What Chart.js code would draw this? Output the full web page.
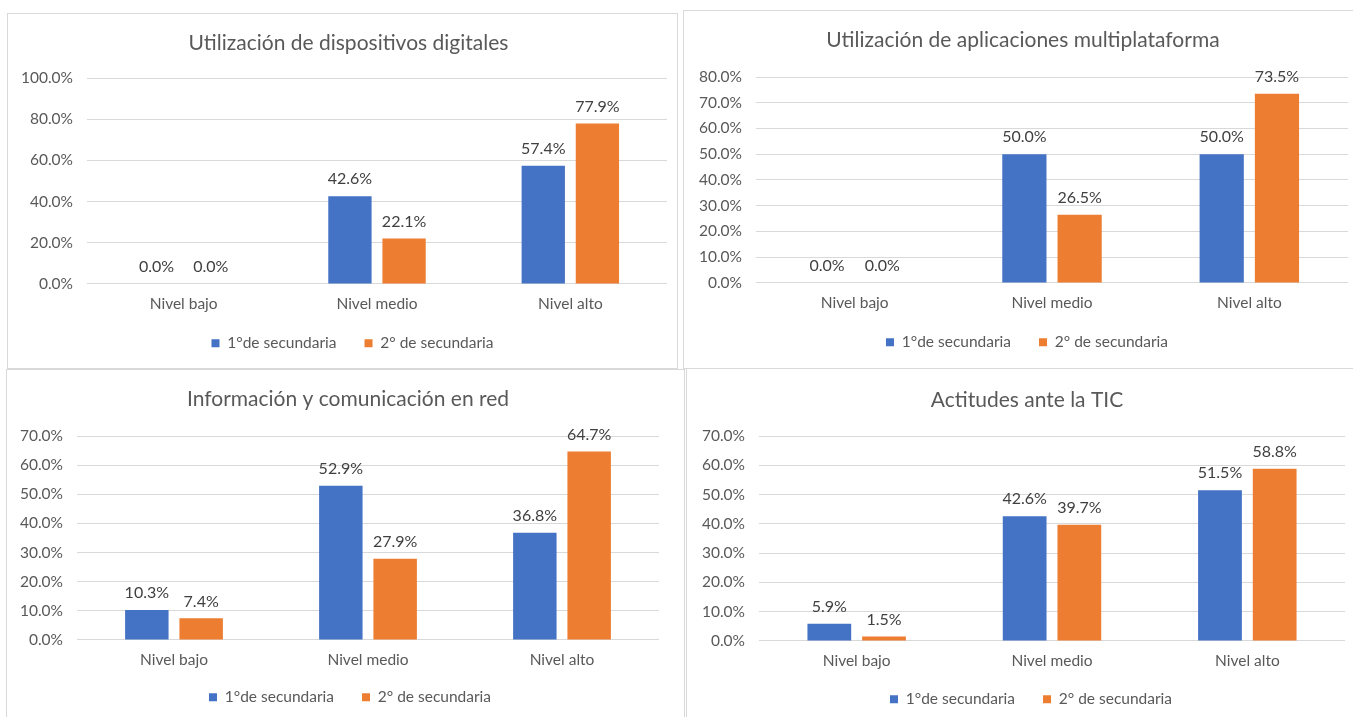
<!DOCTYPE html>
<html>
<head>
<meta charset="utf-8">
<script src="https://cdn.jsdelivr.net/npm/chart.js@4.4.0/dist/chart.umd.min.js"></script>
<style>
  body { margin: 0; background: #fff; width: 1353px; height: 717px; overflow: hidden; position: relative; }
  .panel { position: absolute; border: 1px solid #d9d9d9; background: #fff; box-sizing: border-box; }
  .panel canvas { display: block; }
</style>
</head>
<body>
<div class="panel" id="p1" style="left:7px;top:13px;width:671px;height:356px"><canvas id="c1"></canvas></div>
<div class="panel" id="p2" style="left:683px;top:10px;width:672px;height:359px"><canvas id="c2"></canvas></div>
<div class="panel" id="p3" style="left:6px;top:369px;width:679px;height:356px"><canvas id="c3"></canvas></div>
<div class="panel" id="p4" style="left:686px;top:368px;width:669px;height:358px"><canvas id="c4"></canvas></div>
<script>
// data
const categories = ['Nivel bajo', 'Nivel medio', 'Nivel alto'];
const seriesNames = ['1°de secundaria', '2° de secundaria'];

const dispositivos1 = [0.0, 42.6, 57.4];
const dispositivos2 = [0.0, 22.1, 77.9];
const aplicaciones1 = [0.0, 50.0, 50.0];
const aplicaciones2 = [0.0, 26.5, 73.5];
const informacion1 = [10.3, 52.9, 36.8];
const informacion2 = [7.4, 27.9, 64.7];
const actitudes1 = [5.9, 42.6, 51.5];
const actitudes2 = [1.5, 39.7, 58.8];

const titles = [
  'Utilización de dispositivos digitales',
  'Utilización de aplicaciones multiplataforma',
  'Información y comunicación en red',
  'Actitudes ante la TIC'
];
const yMax = [100, 80, 70, 70];
const yStep = [20, 10, 10, 10];

const FONT = 'Lato, Calibri, Carlito, sans-serif';
const BLUE = '#4472C4';
const ORANGE = '#ED7D31';

// value labels above bars
const barLabels = {
  id: 'barLabels',
  afterDatasetsDraw(chart) {
    const ctx = chart.ctx;
    ctx.save();
    ctx.font = '16px ' + FONT;
    ctx.fillStyle = '#404040';
    ctx.textAlign = 'center';
    ctx.textBaseline = 'middle';
    chart.data.datasets.forEach((ds, i) => {
      chart.getDatasetMeta(i).data.forEach((bar, j) => {
        ctx.fillText(ds.data[j].toFixed(1) + '%', bar.x, bar.y - 17);
      });
    });
    ctx.restore();
  }
};

// title and legend are centred on the plot in Excel, not on the whole box
const nudge = {
  id: 'nudge',
  afterLayout(chart, args, opts) {
    chart.titleBlock.left += opts.title;
    chart.titleBlock.right += opts.title;
    chart.legend.left += opts.legend;
    chart.legend.right += opts.legend;
    chart.legend.top += opts.legendY;
    chart.legend.bottom += opts.legendY;
  }
};

function makeChart(id, idx, d1, d2, yw, padR, titleTop, titleBottom, legH, shiftT, shiftL, shiftY) {
  const ctx = document.getElementById(id).getContext('2d');
  return new Chart(ctx, {
    type: 'bar',
    data: {
      labels: categories,
      datasets: [
        { label: seriesNames[0], data: d1, backgroundColor: BLUE,
          categoryPercentage: 0.56, barPercentage: 0.8 },
        { label: seriesNames[1], data: d2, backgroundColor: ORANGE,
          categoryPercentage: 0.56, barPercentage: 0.8 }
      ]
    },
    options: {
      responsive: true,
      maintainAspectRatio: false,
      animation: false,
      layout: { padding: { left: 0, right: padR, top: 0, bottom: 0 } },
      plugins: {
        nudge: { title: shiftT, legend: shiftL, legendY: shiftY },
        title: {
          display: true,
          text: titles[idx],
          color: '#595959',
          font: { family: FONT, size: 21, weight: 'normal' },
          padding: { top: titleTop, bottom: titleBottom }
        },
        legend: {
          position: 'bottom',
          maxHeight: legH,
          labels: {
            color: '#595959',
            font: { family: FONT, size: 15.5 },
            boxWidth: 8,
            boxHeight: 8,
            padding: 28
          }
        },
        tooltip: { enabled: false }
      },
      scales: {
        x: {
          grid: { display: false, drawTicks: false },
          border: { display: false },
          ticks: { color: '#595959', font: { family: FONT, size: 15.5 }, padding: 11 }
        },
        y: {
          min: 0,
          max: yMax[idx],
          grid: { color: '#d9d9d9', drawTicks: false },
          border: { display: false },
          ticks: {
            stepSize: yStep[idx],
            color: '#595959',
            font: { family: FONT, size: 15.5 },
            padding: 14,
            callback: v => v.toFixed(1) + '%'
          },
          afterFit(scale) { scale.width = yw; }
        }
      }
    },
    plugins: [barLabels, nudge]
  });
}

makeChart('c1', 0, dispositivos1, dispositivos2, 79, 10, 16.4, 22.4, 43.5, 11, 15, -17);
makeChart('c2', 1, aplicaciones1, aplicaciones2, 72, 6, 16.4, 24.4, 44.5, 7, 11, -17);
makeChart('c3', 2, informacion1, informacion2, 70, 25, 16.4, 24.4, 43.5, 15, 17, -19);
makeChart('c4', 3, actitudes1, actitudes2, 72, 9, 18.4, 23.4, 43.5, 11, 15, -18);
</script>
</body>
</html>
